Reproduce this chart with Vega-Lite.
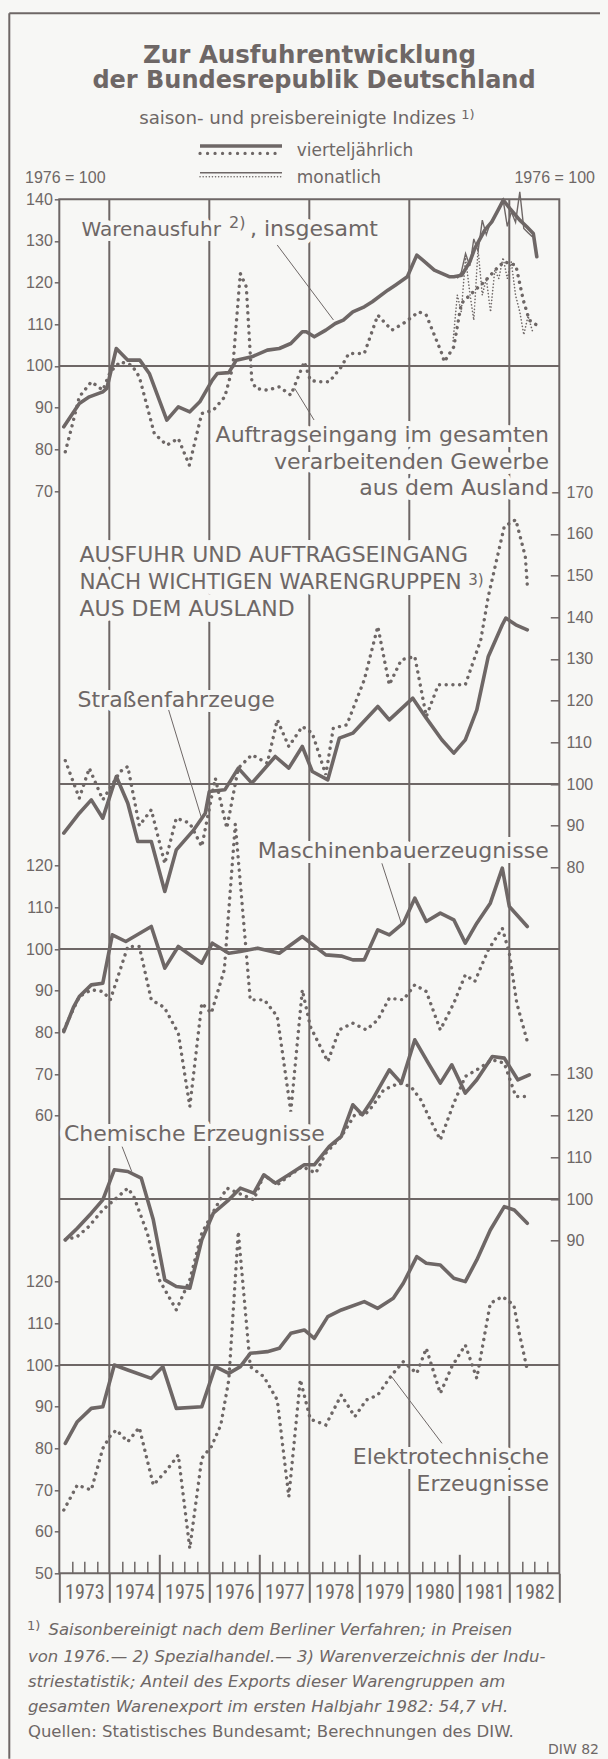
{
"$schema": "https://vega.github.io/schema/vega-lite/v6.json",
"width": 500, "height": 1374,
"autosize": {"type": "none"},
"padding": {"left": 59.3, "top": 199.3, "right": 48.7, "bottom": 185.7},
"background": "#f7f7f5",
"config": {"view": {"stroke": "#6e6766", "strokeWidth": 2}},
"data": {"values": [{}]},
"datasets": {
"ware_q": [{"t":1973.09,"v":85.4},{"t":1973.4,"v":91},{"t":1973.6,"v":92.6},{"t":1973.87,"v":93.8},{"t":1973.95,"v":94.6},{"t":1974.14,"v":104.2},{"t":1974.37,"v":101.4},{"t":1974.61,"v":101.4},{"t":1974.8,"v":98.2},{"t":1975.15,"v":87},{"t":1975.38,"v":90.2},{"t":1975.61,"v":89},{"t":1975.81,"v":91.4},{"t":1976.06,"v":96.6},{"t":1976.16,"v":98.2},{"t":1976.39,"v":98.4},{"t":1976.54,"v":101.4},{"t":1976.85,"v":102.2},{"t":1977.16,"v":103.8},{"t":1977.4,"v":104.2},{"t":1977.63,"v":105.4},{"t":1977.86,"v":108.2},{"t":1977.94,"v":108.2},{"t":1978.1,"v":107},{"t":1978.33,"v":108.6},{"t":1978.52,"v":110.2},{"t":1978.68,"v":111},{"t":1978.87,"v":113},{"t":1979.1,"v":114.2},{"t":1979.26,"v":115.4},{"t":1979.57,"v":118.2},{"t":1979.72,"v":119.4},{"t":1979.96,"v":121.4},{"t":1980.15,"v":126.6},{"t":1980.27,"v":125.4},{"t":1980.5,"v":123},{"t":1980.81,"v":121.4},{"t":1980.89,"v":121.4},{"t":1981.05,"v":121.8},{"t":1981.21,"v":125},{"t":1981.31,"v":128.2},{"t":1981.51,"v":132.6},{"t":1981.65,"v":134.6},{"t":1981.81,"v":138.2},{"t":1981.88,"v":139.8},{"t":1982.01,"v":137.8},{"t":1982.21,"v":135},{"t":1982.35,"v":133.4},{"t":1982.48,"v":131.8},{"t":1982.55,"v":126.2}],
"ware_m": [{"t":1980.96,"v":121},{"t":1981.04,"v":122.5},{"t":1981.125,"v":127},{"t":1981.21,"v":124},{"t":1981.29,"v":130.5},{"t":1981.375,"v":127.5},{"t":1981.46,"v":135},{"t":1981.54,"v":131.5},{"t":1981.625,"v":134.5},{"t":1981.71,"v":136},{"t":1981.79,"v":138},{"t":1981.875,"v":140},{"t":1981.96,"v":133.5},{"t":1982.04,"v":137},{"t":1982.125,"v":134.5},{"t":1982.21,"v":141.8},{"t":1982.29,"v":133},{"t":1982.375,"v":132},{"t":1982.46,"v":131}],
"auft_q": [{"t":1973.12,"v":79.4},{"t":1973.25,"v":85.4},{"t":1973.4,"v":92.6},{"t":1973.64,"v":96.2},{"t":1973.87,"v":94.2},{"t":1974.02,"v":98.6},{"t":1974.22,"v":101},{"t":1974.45,"v":100.2},{"t":1974.6,"v":97.4},{"t":1974.9,"v":83.8},{"t":1975.15,"v":81},{"t":1975.38,"v":82.6},{"t":1975.6,"v":76.2},{"t":1975.85,"v":88.6},{"t":1976.08,"v":89.4},{"t":1976.31,"v":92.6},{"t":1976.47,"v":99.8},{"t":1976.62,"v":122.2},{"t":1976.74,"v":119},{"t":1976.85,"v":96.6},{"t":1976.93,"v":94.6},{"t":1977.16,"v":94.2},{"t":1977.4,"v":95},{"t":1977.63,"v":93},{"t":1977.9,"v":101},{"t":1978.02,"v":96.6},{"t":1978.17,"v":96.2},{"t":1978.4,"v":96.2},{"t":1978.64,"v":99.8},{"t":1978.79,"v":103},{"t":1979.1,"v":103},{"t":1979.37,"v":112.2},{"t":1979.65,"v":108.6},{"t":1979.88,"v":110.2},{"t":1980.19,"v":113},{"t":1980.34,"v":112.2},{"t":1980.65,"v":103},{"t":1980.7,"v":101},{"t":1980.89,"v":104.6},{"t":1981.04,"v":115},{"t":1981.35,"v":118.6},{"t":1981.5,"v":120.2},{"t":1981.78,"v":123.8},{"t":1981.9,"v":125},{"t":1982.13,"v":124.2},{"t":1982.28,"v":115.8},{"t":1982.4,"v":111},{"t":1982.55,"v":109.8}],
"auft_m": [{"t":1980.875,"v":106},{"t":1980.96,"v":117},{"t":1981.04,"v":113},{"t":1981.125,"v":126},{"t":1981.21,"v":117.5},{"t":1981.29,"v":111},{"t":1981.375,"v":128},{"t":1981.46,"v":117},{"t":1981.54,"v":121},{"t":1981.625,"v":113},{"t":1981.71,"v":123},{"t":1981.79,"v":121},{"t":1981.875,"v":126},{"t":1981.96,"v":121},{"t":1982.04,"v":125},{"t":1982.125,"v":117},{"t":1982.21,"v":113},{"t":1982.29,"v":107.5},{"t":1982.375,"v":112},{"t":1982.46,"v":108.5}],
"str_a": [{"t":1973.09,"v":88.2},{"t":1973.4,"v":93},{"t":1973.64,"v":96.2},{"t":1973.87,"v":91.8},{"t":1974.14,"v":101.8},{"t":1974.37,"v":95.4},{"t":1974.57,"v":86.2},{"t":1974.84,"v":86.2},{"t":1975.11,"v":74.2},{"t":1975.34,"v":84.2},{"t":1975.69,"v":89},{"t":1975.92,"v":93},{"t":1976.0,"v":98.2},{"t":1976.31,"v":98.6},{"t":1976.58,"v":103.8},{"t":1976.85,"v":100.2},{"t":1977.32,"v":106.6},{"t":1977.59,"v":103.8},{"t":1977.86,"v":109},{"t":1978.06,"v":103},{"t":1978.37,"v":101},{"t":1978.6,"v":111},{"t":1978.87,"v":112.2},{"t":1979.37,"v":118.6},{"t":1979.6,"v":115.4},{"t":1980.07,"v":120.6},{"t":1980.34,"v":115.8},{"t":1980.65,"v":110.6},{"t":1980.89,"v":107.4},{"t":1981.12,"v":110.6},{"t":1981.35,"v":117.8},{"t":1981.58,"v":130.6},{"t":1981.86,"v":138.2},{"t":1981.93,"v":139.8},{"t":1982.13,"v":138.2},{"t":1982.36,"v":137}],
"str_o": [{"t":1973.12,"v":105.6},{"t":1973.4,"v":96.6},{"t":1973.6,"v":103.8},{"t":1973.87,"v":96.2},{"t":1974.22,"v":103},{"t":1974.37,"v":104.2},{"t":1974.6,"v":90},{"t":1974.84,"v":93.8},{"t":1975.11,"v":80.9},{"t":1975.34,"v":91.8},{"t":1975.61,"v":90.6},{"t":1975.85,"v":85},{"t":1976.12,"v":101.4},{"t":1976.35,"v":89.4},{"t":1976.58,"v":103.8},{"t":1976.85,"v":107},{"t":1977.16,"v":105},{"t":1977.36,"v":115.4},{"t":1977.59,"v":109},{"t":1977.86,"v":113.8},{"t":1978.06,"v":112.2},{"t":1978.33,"v":102.2},{"t":1978.48,"v":113.4},{"t":1978.75,"v":114.2},{"t":1979.1,"v":125},{"t":1979.37,"v":137.8},{"t":1979.6,"v":123.8},{"t":1979.84,"v":129.8},{"t":1980.11,"v":130.6},{"t":1980.34,"v":116.2},{"t":1980.58,"v":123.8},{"t":1981.12,"v":123.8},{"t":1981.43,"v":134.6},{"t":1981.58,"v":145},{"t":1981.9,"v":161.8},{"t":1982.13,"v":163.4},{"t":1982.32,"v":154.6},{"t":1982.36,"v":147.8}],
"mas_a": [{"t":1973.09,"v":80.2},{"t":1973.29,"v":86.2},{"t":1973.4,"v":88.6},{"t":1973.64,"v":91.4},{"t":1973.87,"v":91.8},{"t":1974.06,"v":103.4},{"t":1974.33,"v":101.8},{"t":1974.84,"v":105.4},{"t":1975.11,"v":95.4},{"t":1975.38,"v":100.6},{"t":1975.85,"v":96.6},{"t":1976.06,"v":101.4},{"t":1976.39,"v":99},{"t":1976.62,"v":99.4},{"t":1976.97,"v":100.2},{"t":1977.4,"v":99},{"t":1977.86,"v":103},{"t":1978.33,"v":98.6},{"t":1978.64,"v":98.3},{"t":1978.87,"v":97.4},{"t":1979.1,"v":97.4},{"t":1979.37,"v":104.6},{"t":1979.6,"v":103.4},{"t":1979.88,"v":106.2},{"t":1980.11,"v":112.2},{"t":1980.34,"v":106.6},{"t":1980.62,"v":108.6},{"t":1980.89,"v":107},{"t":1981.12,"v":101.4},{"t":1981.35,"v":106.2},{"t":1981.62,"v":111},{"t":1981.86,"v":119.4},{"t":1982.0,"v":110.2},{"t":1982.36,"v":105.4}],
"mas_o": [{"t":1973.09,"v":80.6},{"t":1973.4,"v":88.6},{"t":1973.64,"v":90.2},{"t":1973.87,"v":89.8},{"t":1974.02,"v":87.8},{"t":1974.37,"v":100.6},{"t":1974.6,"v":100.6},{"t":1974.84,"v":87.8},{"t":1975.1,"v":86},{"t":1975.38,"v":79.8},{"t":1975.61,"v":62.2},{"t":1975.85,"v":87},{"t":1976.04,"v":84.6},{"t":1976.3,"v":95},{"t":1976.52,"v":130},{"t":1976.82,"v":87.8},{"t":1977.1,"v":87.8},{"t":1977.36,"v":83.8},{"t":1977.63,"v":61},{"t":1977.86,"v":90.2},{"t":1978.02,"v":81.4},{"t":1978.37,"v":73},{"t":1978.6,"v":80.6},{"t":1978.87,"v":82.2},{"t":1979.14,"v":80.6},{"t":1979.37,"v":83},{"t":1979.6,"v":88.2},{"t":1979.88,"v":87.8},{"t":1980.11,"v":91.4},{"t":1980.34,"v":89.8},{"t":1980.62,"v":80.6},{"t":1980.89,"v":87},{"t":1981.12,"v":93.8},{"t":1981.31,"v":92.2},{"t":1981.58,"v":99.8},{"t":1981.86,"v":105},{"t":1982.0,"v":99},{"t":1982.15,"v":87},{"t":1982.36,"v":77.8}],
"che_a": [{"t":1973.12,"v":90.2},{"t":1973.36,"v":93},{"t":1973.64,"v":96.6},{"t":1973.87,"v":99.8},{"t":1974.1,"v":107},{"t":1974.37,"v":106.6},{"t":1974.64,"v":105},{"t":1974.88,"v":95},{"t":1975.11,"v":80.6},{"t":1975.34,"v":79},{"t":1975.61,"v":78.6},{"t":1975.85,"v":90.2},{"t":1976.08,"v":96.6},{"t":1976.39,"v":99.8},{"t":1976.62,"v":102.6},{"t":1976.89,"v":101.4},{"t":1977.09,"v":105.8},{"t":1977.32,"v":103.8},{"t":1977.59,"v":105.8},{"t":1977.9,"v":108.2},{"t":1978.1,"v":108.2},{"t":1978.4,"v":112.6},{"t":1978.64,"v":115},{"t":1978.87,"v":122.6},{"t":1979.06,"v":120.2},{"t":1979.26,"v":123.8},{"t":1979.6,"v":131},{"t":1979.84,"v":127.8},{"t":1980.11,"v":138.2},{"t":1980.38,"v":132.6},{"t":1980.62,"v":127.8},{"t":1980.85,"v":132.2},{"t":1981.12,"v":125.4},{"t":1981.35,"v":128.6},{"t":1981.66,"v":134.2},{"t":1981.9,"v":133.8},{"t":1982.17,"v":128.6},{"t":1982.4,"v":129.8}],
"che_o": [{"t":1973.12,"v":90.2},{"t":1973.36,"v":91},{"t":1973.59,"v":93.4},{"t":1973.87,"v":97.4},{"t":1974.12,"v":100},{"t":1974.37,"v":102.6},{"t":1974.49,"v":100.6},{"t":1974.76,"v":91.8},{"t":1975.0,"v":80.6},{"t":1975.34,"v":73.4},{"t":1975.61,"v":80.6},{"t":1975.85,"v":91.8},{"t":1976.12,"v":97.8},{"t":1976.35,"v":102.6},{"t":1976.66,"v":101},{"t":1976.89,"v":99.8},{"t":1977.09,"v":105.8},{"t":1977.36,"v":103.4},{"t":1977.59,"v":105.5},{"t":1977.86,"v":107.8},{"t":1978.13,"v":106.2},{"t":1978.33,"v":111},{"t":1978.64,"v":115},{"t":1978.91,"v":120.2},{"t":1979.14,"v":120.6},{"t":1979.26,"v":122.2},{"t":1979.49,"v":126.2},{"t":1979.8,"v":127.8},{"t":1980.03,"v":127},{"t":1980.23,"v":123.8},{"t":1980.42,"v":119},{"t":1980.62,"v":114.2},{"t":1980.89,"v":123},{"t":1981.12,"v":129.4},{"t":1981.35,"v":131},{"t":1981.66,"v":133.4},{"t":1981.9,"v":132.6},{"t":1982.13,"v":124.6},{"t":1982.4,"v":124.6}],
"ele_a": [{"t":1973.12,"v":81.2},{"t":1973.36,"v":86.4},{"t":1973.64,"v":89.6},{"t":1973.87,"v":90},{"t":1974.1,"v":100},{"t":1974.37,"v":98.8},{"t":1974.84,"v":96.8},{"t":1975.07,"v":99.6},{"t":1975.34,"v":89.6},{"t":1975.85,"v":90},{"t":1976.12,"v":99.6},{"t":1976.39,"v":98},{"t":1976.62,"v":99.6},{"t":1976.82,"v":102.8},{"t":1977.16,"v":103.2},{"t":1977.4,"v":104},{"t":1977.63,"v":107.6},{"t":1977.9,"v":108.4},{"t":1978.1,"v":106.4},{"t":1978.37,"v":111.6},{"t":1978.64,"v":113.2},{"t":1979.1,"v":115.2},{"t":1979.37,"v":113.6},{"t":1979.68,"v":116},{"t":1979.88,"v":119.6},{"t":1980.15,"v":126},{"t":1980.34,"v":124.4},{"t":1980.62,"v":124},{"t":1980.89,"v":120.8},{"t":1981.12,"v":120},{"t":1981.35,"v":125.2},{"t":1981.62,"v":132.4},{"t":1981.9,"v":138},{"t":1982.1,"v":137.2},{"t":1982.36,"v":134}],
"ele_o": [{"t":1973.09,"v":65.2},{"t":1973.36,"v":71.2},{"t":1973.64,"v":70},{"t":1973.87,"v":80},{"t":1974.02,"v":83},{"t":1974.14,"v":84.4},{"t":1974.37,"v":81.6},{"t":1974.6,"v":85},{"t":1974.88,"v":71.2},{"t":1975.15,"v":74.8},{"t":1975.38,"v":78.4},{"t":1975.61,"v":56},{"t":1975.85,"v":77.6},{"t":1976.04,"v":80.4},{"t":1976.23,"v":85.6},{"t":1976.39,"v":96.4},{"t":1976.58,"v":132},{"t":1976.82,"v":99.6},{"t":1977.09,"v":97.2},{"t":1977.36,"v":91.6},{"t":1977.59,"v":68.4},{"t":1977.82,"v":96.5},{"t":1978.02,"v":87},{"t":1978.33,"v":85.6},{"t":1978.64,"v":92.8},{"t":1978.91,"v":87.6},{"t":1979.14,"v":91.6},{"t":1979.37,"v":92.8},{"t":1979.65,"v":97.6},{"t":1979.88,"v":100.8},{"t":1980.15,"v":98},{"t":1980.34,"v":104},{"t":1980.62,"v":93.2},{"t":1980.85,"v":99.6},{"t":1981.12,"v":104.8},{"t":1981.35,"v":96.8},{"t":1981.62,"v":114.8},{"t":1981.86,"v":116.4},{"t":1982.09,"v":114.4},{"t":1982.2,"v":107.6},{"t":1982.36,"v":98.8}]
},
"layer": [
{"mark": {"type": "rule", "color": "#6e6766", "strokeWidth": 2}, "encoding": {"x": {"datum": 1972.0, "axis": null}, "y": {"datum": 184.62, "scale": {"domain": [70, 140], "range": [291.7, 0], "nice": false, "zero": false}, "axis": null}, "y2": {"datum": -234.2}}},
{"mark": {"type": "rule", "color": "#6e6766", "strokeWidth": 2}, "encoding": {"x": {"datum": 1972.0, "axis": null}, "x2": {"datum": 1983.814}, "y": {"datum": 184.62, "scale": {"domain": [70, 140], "range": [291.7, 0], "nice": false, "zero": false}, "axis": null}}},

{"mark": {"type": "rule", "color": "#6e6766", "strokeWidth": 2}, "encoding": {"x": {"datum": 1974, "axis": null}}},
{"mark": {"type": "rule", "color": "#6e6766", "strokeWidth": 2}, "encoding": {"x": {"datum": 1976, "axis": null}}},
{"mark": {"type": "rule", "color": "#6e6766", "strokeWidth": 2}, "encoding": {"x": {"datum": 1978, "axis": null}}},
{"mark": {"type": "rule", "color": "#6e6766", "strokeWidth": 2}, "encoding": {"x": {"datum": 1980, "axis": null}}},
{"mark": {"type": "rule", "color": "#6e6766", "strokeWidth": 2}, "encoding": {"x": {"datum": 1982, "axis": null}}},

{"mark": {"type": "text", "text": "Warenausfuhr", "align": "left", "baseline": "alphabetic", "font": "DejaVu Sans", "fontSize": 20, "fill": "#f7f7f5", "stroke": "#f7f7f5", "strokeWidth": 10, "strokeJoin": "round"}, "encoding": {"x": {"datum": 1973.442, "axis": null}, "y": {"datum": 131.19, "scale": {"domain": [70, 140], "range": [291.7, 0], "nice": false, "zero": false}, "axis": null}}},
{"mark": {"type": "text", "text": ", insgesamt", "align": "right", "baseline": "alphabetic", "font": "DejaVu Sans", "fontSize": 22, "fill": "#f7f7f5", "stroke": "#f7f7f5", "strokeWidth": 10, "strokeJoin": "round"}, "encoding": {"x": {"datum": 1979.374, "axis": null}, "y": {"datum": 131.19, "scale": {"domain": [70, 140], "range": [291.7, 0], "nice": false, "zero": false}, "axis": null}}},
{"mark": {"type": "text", "text": "Auftragseingang im gesamten", "align": "right", "baseline": "alphabetic", "font": "DejaVu Sans", "fontSize": 22, "fill": "#f7f7f5", "stroke": "#f7f7f5", "strokeWidth": 10, "strokeJoin": "round"}, "encoding": {"x": {"datum": 1982.794, "axis": null}, "y": {"datum": 81.69, "scale": {"domain": [70, 140], "range": [291.7, 0], "nice": false, "zero": false}, "axis": null}}},
{"mark": {"type": "text", "text": "verarbeitenden Gewerbe", "align": "right", "baseline": "alphabetic", "font": "DejaVu Sans", "fontSize": 22, "fill": "#f7f7f5", "stroke": "#f7f7f5", "strokeWidth": 10, "strokeJoin": "round"}, "encoding": {"x": {"datum": 1982.794, "axis": null}, "y": {"datum": 75.36, "scale": {"domain": [70, 140], "range": [291.7, 0], "nice": false, "zero": false}, "axis": null}}},
{"mark": {"type": "text", "text": "aus dem Ausland", "align": "right", "baseline": "alphabetic", "font": "DejaVu Sans", "fontSize": 22, "fill": "#f7f7f5", "stroke": "#f7f7f5", "strokeWidth": 10, "strokeJoin": "round"}, "encoding": {"x": {"datum": 1982.794, "axis": null}, "y": {"datum": 68.97, "scale": {"domain": [70, 140], "range": [291.7, 0], "nice": false, "zero": false}, "axis": null}}},
{"mark": {"type": "text", "text": "AUSFUHR UND AUFTRAGSEINGANG", "align": "left", "baseline": "alphabetic", "font": "DejaVu Sans", "fontSize": 22, "fill": "#f7f7f5", "stroke": "#f7f7f5", "strokeWidth": 12, "strokeJoin": "round"}, "encoding": {"x": {"datum": 1973.404, "axis": null}, "y": {"datum": 153.33, "scale": {"domain": [80, 170], "range": [668.06, 292.94], "nice": false, "zero": false}, "axis": null}}},
{"mark": {"type": "text", "text": "NACH WICHTIGEN WARENGRUPPEN", "align": "left", "baseline": "alphabetic", "font": "DejaVu Sans", "fontSize": 21.5, "fill": "#f7f7f5", "stroke": "#f7f7f5", "strokeWidth": 12, "strokeJoin": "round"}, "encoding": {"x": {"datum": 1973.404, "axis": null}, "y": {"datum": 146.78, "scale": {"domain": [80, 170], "range": [668.06, 292.94], "nice": false, "zero": false}, "axis": null}}},
{"mark": {"type": "text", "text": "AUS DEM AUSLAND", "align": "left", "baseline": "alphabetic", "font": "DejaVu Sans", "fontSize": 22, "fill": "#f7f7f5", "stroke": "#f7f7f5", "strokeWidth": 12, "strokeJoin": "round"}, "encoding": {"x": {"datum": 1973.404, "axis": null}, "y": {"datum": 140.31, "scale": {"domain": [80, 170], "range": [668.06, 292.94], "nice": false, "zero": false}, "axis": null}}},
{"mark": {"type": "text", "text": "Straßenfahrzeuge", "align": "left", "baseline": "alphabetic", "font": "DejaVu Sans", "fontSize": 22, "fill": "#f7f7f5", "stroke": "#f7f7f5", "strokeWidth": 10, "strokeJoin": "round"}, "encoding": {"x": {"datum": 1973.364, "axis": null}, "y": {"datum": 118.55, "scale": {"domain": [80, 170], "range": [668.06, 292.94], "nice": false, "zero": false}, "axis": null}}},
{"mark": {"type": "text", "text": "Maschinenbauerzeugnisse", "align": "right", "baseline": "alphabetic", "font": "DejaVu Sans", "fontSize": 22, "fill": "#f7f7f5", "stroke": "#f7f7f5", "strokeWidth": 10, "strokeJoin": "round"}, "encoding": {"x": {"datum": 1982.788, "axis": null}, "y": {"datum": 121.76, "scale": {"domain": [60, 120], "range": [916.42, 666.34], "nice": false, "zero": false}, "axis": null}}},
{"mark": {"type": "text", "text": "Chemische Erzeugnisse", "align": "left", "baseline": "alphabetic", "font": "DejaVu Sans", "fontSize": 22, "fill": "#f7f7f5", "stroke": "#f7f7f5", "strokeWidth": 10, "strokeJoin": "round"}, "encoding": {"x": {"datum": 1973.094, "axis": null}, "y": {"datum": 113.99, "scale": {"domain": [90, 130], "range": [1041.38, 874.66], "nice": false, "zero": false}, "axis": null}}},
{"mark": {"type": "text", "text": "Elektrotechnische", "align": "right", "baseline": "alphabetic", "font": "DejaVu Sans", "fontSize": 22, "fill": "#f7f7f5", "stroke": "#f7f7f5", "strokeWidth": 10, "strokeJoin": "round"}, "encoding": {"x": {"datum": 1982.794, "axis": null}, "y": {"datum": 76.25, "scale": {"domain": [50, 120], "range": [1374.1, 1082.34], "nice": false, "zero": false}, "axis": null}}},
{"mark": {"type": "text", "text": "Erzeugnisse", "align": "right", "baseline": "alphabetic", "font": "DejaVu Sans", "fontSize": 22, "fill": "#f7f7f5", "stroke": "#f7f7f5", "strokeWidth": 10, "strokeJoin": "round"}, "encoding": {"x": {"datum": 1982.794, "axis": null}, "y": {"datum": 69.84, "scale": {"domain": [50, 120], "range": [1374.1, 1082.34], "nice": false, "zero": false}, "axis": null}}},

{"mark": {"type": "rule", "color": "#6e6766", "strokeWidth": 2}, "encoding": {"y": {"datum": 100, "scale": {"domain": [70, 140], "range": [291.7, 0], "nice": false, "zero": false}, "axis": null}}},
{"mark": {"type": "rule", "color": "#6e6766", "strokeWidth": 2}, "encoding": {"y": {"datum": 100, "scale": {"domain": [80, 170], "range": [668.06, 292.94], "nice": false, "zero": false}, "axis": null}}},
{"mark": {"type": "rule", "color": "#6e6766", "strokeWidth": 2}, "encoding": {"y": {"datum": 100, "scale": {"domain": [60, 120], "range": [916.42, 666.34], "nice": false, "zero": false}, "axis": null}}},
{"mark": {"type": "rule", "color": "#6e6766", "strokeWidth": 2}, "encoding": {"y": {"datum": 100, "scale": {"domain": [90, 130], "range": [1041.38, 874.66], "nice": false, "zero": false}, "axis": null}}},
{"mark": {"type": "rule", "color": "#6e6766", "strokeWidth": 2}, "encoding": {"y": {"datum": 100, "scale": {"domain": [50, 120], "range": [1374.1, 1082.34], "nice": false, "zero": false}, "axis": null}}},

{"data": {"name": "ware_q"}, "mark": {"type": "line", "color": "#6e6766", "strokeWidth": 3.6, "strokeJoin": "round", "strokeCap": "round"}, "encoding": {"x": {"field": "t", "type": "quantitative", "scale": {"domain": [1973, 1983], "nice": false, "zero": false}, "axis": {"orient": "bottom", "values": [1973, 1974, 1975, 1976, 1977, 1978, 1979, 1980, 1981, 1982, 1983], "format": "d", "labelExpr": "datum.value < 1983 ? datum.label : ''", "tickSize": 29, "tickWidth": 2, "tickColor": "#6e6766", "labelOffset": 25, "labelPadding": -10, "labelBaseline": "middle", "labelAlign": "center", "labelFont": "'Roboto Condensed', 'DejaVu Sans Condensed', 'Liberation Sans'", "labelFontSize": 20, "labelColor": "#6e6766", "labelFlush": false, "labelOverlap": false, "labelBound": false, "domain": false, "grid": false, "title": null}}, "y": {"field": "v", "type": "quantitative", "scale": {"domain": [70, 140], "range": [291.7, 0], "nice": false, "zero": false}, "axis": {"orient": "left", "values": [70, 80, 90, 100, 110, 120, 130, 140], "tickSize": 5, "tickWidth": 1.5, "tickColor": "#6e6766", "labelFont": "Liberation Sans", "labelFontSize": 16, "labelColor": "#6e6766", "labelPadding": 2, "domain": false, "grid": false, "title": null}}}},
{"data": {"name": "ware_m"}, "mark": {"type": "line", "color": "#6e6766", "strokeWidth": 1.4}, "encoding": {"x": {"field": "t", "type": "quantitative", "axis": null}, "y": {"field": "v", "type": "quantitative", "scale": {"domain": [70, 140], "range": [291.7, 0], "nice": false, "zero": false}, "axis": null}}},
{"data": {"name": "auft_q"}, "mark": {"type": "line", "color": "#6e6766", "strokeWidth": 3.4, "strokeDash": [0.1, 6.6], "strokeCap": "round"}, "encoding": {"x": {"field": "t", "type": "quantitative", "axis": null}, "y": {"field": "v", "type": "quantitative", "scale": {"domain": [70, 140], "range": [291.7, 0], "nice": false, "zero": false}, "axis": null}}},
{"data": {"name": "auft_m"}, "mark": {"type": "line", "color": "#6e6766", "strokeWidth": 1.6, "strokeDash": [0.1, 3.2], "strokeCap": "round"}, "encoding": {"x": {"field": "t", "type": "quantitative", "axis": null}, "y": {"field": "v", "type": "quantitative", "scale": {"domain": [70, 140], "range": [291.7, 0], "nice": false, "zero": false}, "axis": null}}},
{"data": {"name": "str_a"}, "mark": {"type": "line", "color": "#6e6766", "strokeWidth": 3.6, "strokeJoin": "round", "strokeCap": "round"}, "encoding": {"x": {"field": "t", "type": "quantitative", "axis": {"orient": "bottom", "values": [1973.25, 1973.5, 1973.75, 1974.25, 1974.5, 1974.75, 1975.25, 1975.5, 1975.75, 1976.25, 1976.5, 1976.75, 1977.25, 1977.5, 1977.75, 1978.25, 1978.5, 1978.75, 1979.25, 1979.5, 1979.75, 1980.25, 1980.5, 1980.75, 1981.25, 1981.5, 1981.75, 1982.25, 1982.5, 1982.75], "tickSize": -12, "tickWidth": 1.5, "tickColor": "#6e6766", "labels": false, "domain": false, "grid": false, "title": null}}, "y": {"field": "v", "type": "quantitative", "scale": {"domain": [80, 170], "range": [668.06, 292.94], "nice": false, "zero": false}, "axis": {"orient": "right", "values": [80, 90, 100, 110, 120, 130, 140, 150, 160, 170], "tickSize": -9, "tickWidth": 1.5, "tickColor": "#6e6766", "labelFont": "Liberation Sans", "labelFontSize": 16, "labelColor": "#6e6766", "labelPadding": 15.7, "domain": false, "grid": false, "title": null}}}},
{"data": {"name": "str_o"}, "mark": {"type": "line", "color": "#6e6766", "strokeWidth": 3.4, "strokeDash": [0.1, 6.6], "strokeCap": "round"}, "encoding": {"x": {"field": "t", "type": "quantitative", "axis": null}, "y": {"field": "v", "type": "quantitative", "scale": {"domain": [80, 170], "range": [668.06, 292.94], "nice": false, "zero": false}, "axis": null}}},
{"data": {"name": "mas_a"}, "mark": {"type": "line", "color": "#6e6766", "strokeWidth": 3.6, "strokeJoin": "round", "strokeCap": "round"}, "encoding": {"x": {"field": "t", "type": "quantitative", "axis": {"orient": "bottom", "values": [1975, 1977, 1979, 1981], "tickSize": -19, "tickWidth": 2, "tickColor": "#6e6766", "labels": false, "domain": false, "grid": false, "title": null}}, "y": {"field": "v", "type": "quantitative", "scale": {"domain": [60, 120], "range": [916.42, 666.34], "nice": false, "zero": false}, "axis": {"orient": "left", "values": [60, 70, 80, 90, 100, 110, 120], "tickSize": 5, "tickWidth": 1.5, "tickColor": "#6e6766", "labelFont": "Liberation Sans", "labelFontSize": 16, "labelColor": "#6e6766", "labelPadding": 2, "domain": false, "grid": false, "title": null}}}},
{"data": {"name": "mas_o"}, "mark": {"type": "line", "color": "#6e6766", "strokeWidth": 3.4, "strokeDash": [0.1, 6.6], "strokeCap": "round"}, "encoding": {"x": {"field": "t", "type": "quantitative", "axis": null}, "y": {"field": "v", "type": "quantitative", "scale": {"domain": [60, 120], "range": [916.42, 666.34], "nice": false, "zero": false}, "axis": null}}},
{"data": {"name": "che_a"}, "mark": {"type": "line", "color": "#6e6766", "strokeWidth": 3.6, "strokeJoin": "round", "strokeCap": "round"}, "encoding": {"x": {"field": "t", "type": "quantitative", "axis": null}, "y": {"field": "v", "type": "quantitative", "scale": {"domain": [90, 130], "range": [1041.38, 874.66], "nice": false, "zero": false}, "axis": {"orient": "right", "values": [90, 100, 110, 120, 130], "tickSize": -9, "tickWidth": 1.5, "tickColor": "#6e6766", "labelFont": "Liberation Sans", "labelFontSize": 16, "labelColor": "#6e6766", "labelPadding": 15.7, "domain": false, "grid": false, "title": null}}}},
{"data": {"name": "che_o"}, "mark": {"type": "line", "color": "#6e6766", "strokeWidth": 3.4, "strokeDash": [0.1, 6.6], "strokeCap": "round"}, "encoding": {"x": {"field": "t", "type": "quantitative", "axis": null}, "y": {"field": "v", "type": "quantitative", "scale": {"domain": [90, 130], "range": [1041.38, 874.66], "nice": false, "zero": false}, "axis": null}}},
{"data": {"name": "ele_a"}, "mark": {"type": "line", "color": "#6e6766", "strokeWidth": 3.6, "strokeJoin": "round", "strokeCap": "round"}, "encoding": {"x": {"field": "t", "type": "quantitative", "axis": null}, "y": {"field": "v", "type": "quantitative", "scale": {"domain": [50, 120], "range": [1374.1, 1082.34], "nice": false, "zero": false}, "axis": {"orient": "left", "values": [50, 60, 70, 80, 90, 100, 110, 120], "tickSize": 5, "tickWidth": 1.5, "tickColor": "#6e6766", "labelFont": "Liberation Sans", "labelFontSize": 16, "labelColor": "#6e6766", "labelPadding": 2, "domain": false, "grid": false, "title": null}}}},
{"data": {"name": "ele_o"}, "mark": {"type": "line", "color": "#6e6766", "strokeWidth": 3.4, "strokeDash": [0.1, 6.6], "strokeCap": "round"}, "encoding": {"x": {"field": "t", "type": "quantitative", "axis": null}, "y": {"field": "v", "type": "quantitative", "scale": {"domain": [50, 120], "range": [1374.1, 1082.34], "nice": false, "zero": false}, "axis": null}}},

{"mark": {"type": "rule", "color": "#6e6766", "strokeWidth": 1}, "encoding": {"x": {"datum": 1977.358, "axis": null}, "x2": {"datum": 1978.483}, "y": {"datum": 129.04, "scale": {"domain": [70, 140], "range": [291.7, 0], "nice": false, "zero": false}, "axis": null}, "y2": {"datum": 111.04}}},
{"mark": {"type": "rule", "color": "#6e6766", "strokeWidth": 1}, "encoding": {"x": {"datum": 1977.707, "axis": null}, "x2": {"datum": 1978.095}, "y": {"datum": 94.64, "scale": {"domain": [70, 140], "range": [291.7, 0], "nice": false, "zero": false}, "axis": null}, "y2": {"datum": 87.04}}},
{"mark": {"type": "rule", "color": "#6e6766", "strokeWidth": 1}, "encoding": {"x": {"datum": 1975.187, "axis": null}, "x2": {"datum": 1975.846}, "y": {"datum": 117.76, "scale": {"domain": [80, 170], "range": [668.06, 292.94], "nice": false, "zero": false}, "axis": null}, "y2": {"datum": 91.76}}},
{"mark": {"type": "rule", "color": "#6e6766", "strokeWidth": 1}, "encoding": {"x": {"datum": 1979.452, "axis": null}, "x2": {"datum": 1979.84}, "y": {"datum": 120.56, "scale": {"domain": [60, 120], "range": [916.42, 666.34], "nice": false, "zero": false}, "axis": null}, "y2": {"datum": 106.16}}},
{"mark": {"type": "rule", "color": "#6e6766", "strokeWidth": 1}, "encoding": {"x": {"datum": 1974.256, "axis": null}, "x2": {"datum": 1974.45}, "y": {"datum": 112.56, "scale": {"domain": [90, 130], "range": [1041.38, 874.66], "nice": false, "zero": false}, "axis": null}, "y2": {"datum": 106.56}}},
{"mark": {"type": "rule", "color": "#6e6766", "strokeWidth": 1}, "encoding": {"x": {"datum": 1979.646, "axis": null}, "x2": {"datum": 1980.654}, "y": {"datum": 97.2, "scale": {"domain": [50, 120], "range": [1374.1, 1082.34], "nice": false, "zero": false}, "axis": null}, "y2": {"datum": 81.2}}},

{"mark": {"type": "text", "text": "Warenausfuhr", "align": "left", "baseline": "alphabetic", "font": "DejaVu Sans", "fontSize": 20, "color": "#6e6766"}, "encoding": {"x": {"datum": 1973.442, "axis": null}, "y": {"datum": 131.19, "scale": {"domain": [70, 140], "range": [291.7, 0], "nice": false, "zero": false}, "axis": null}}},
{"mark": {"type": "text", "text": "2)", "align": "left", "baseline": "alphabetic", "font": "DejaVu Sans", "fontSize": 16, "color": "#6e6766"}, "encoding": {"x": {"datum": 1976.394, "axis": null}, "y": {"datum": 133.0, "scale": {"domain": [70, 140], "range": [291.7, 0], "nice": false, "zero": false}, "axis": null}}},
{"mark": {"type": "text", "text": ", insgesamt", "align": "right", "baseline": "alphabetic", "font": "DejaVu Sans", "fontSize": 22, "color": "#6e6766"}, "encoding": {"x": {"datum": 1979.374, "axis": null}, "y": {"datum": 131.19, "scale": {"domain": [70, 140], "range": [291.7, 0], "nice": false, "zero": false}, "axis": null}}},
{"mark": {"type": "text", "text": "Auftragseingang im gesamten", "align": "right", "baseline": "alphabetic", "font": "DejaVu Sans", "fontSize": 22, "color": "#6e6766"}, "encoding": {"x": {"datum": 1982.794, "axis": null}, "y": {"datum": 81.69, "scale": {"domain": [70, 140], "range": [291.7, 0], "nice": false, "zero": false}, "axis": null}}},
{"mark": {"type": "text", "text": "verarbeitenden Gewerbe", "align": "right", "baseline": "alphabetic", "font": "DejaVu Sans", "fontSize": 22, "color": "#6e6766"}, "encoding": {"x": {"datum": 1982.794, "axis": null}, "y": {"datum": 75.36, "scale": {"domain": [70, 140], "range": [291.7, 0], "nice": false, "zero": false}, "axis": null}}},
{"mark": {"type": "text", "text": "aus dem Ausland", "align": "right", "baseline": "alphabetic", "font": "DejaVu Sans", "fontSize": 22, "color": "#6e6766"}, "encoding": {"x": {"datum": 1982.794, "axis": null}, "y": {"datum": 68.97, "scale": {"domain": [70, 140], "range": [291.7, 0], "nice": false, "zero": false}, "axis": null}}},
{"mark": {"type": "text", "text": "AUSFUHR UND AUFTRAGSEINGANG", "align": "left", "baseline": "alphabetic", "font": "DejaVu Sans", "fontSize": 22, "color": "#6e6766"}, "encoding": {"x": {"datum": 1973.404, "axis": null}, "y": {"datum": 153.33, "scale": {"domain": [80, 170], "range": [668.06, 292.94], "nice": false, "zero": false}, "axis": null}}},
{"mark": {"type": "text", "text": "NACH WICHTIGEN WARENGRUPPEN", "align": "left", "baseline": "alphabetic", "font": "DejaVu Sans", "fontSize": 21.5, "color": "#6e6766"}, "encoding": {"x": {"datum": 1973.404, "axis": null}, "y": {"datum": 146.78, "scale": {"domain": [80, 170], "range": [668.06, 292.94], "nice": false, "zero": false}, "axis": null}}},
{"mark": {"type": "text", "text": "3)", "align": "left", "baseline": "alphabetic", "font": "DejaVu Sans", "fontSize": 15, "color": "#6e6766"}, "encoding": {"x": {"datum": 1981.18, "axis": null}, "y": {"datum": 147.63, "scale": {"domain": [80, 170], "range": [668.06, 292.94], "nice": false, "zero": false}, "axis": null}}},
{"mark": {"type": "text", "text": "AUS DEM AUSLAND", "align": "left", "baseline": "alphabetic", "font": "DejaVu Sans", "fontSize": 22, "color": "#6e6766"}, "encoding": {"x": {"datum": 1973.404, "axis": null}, "y": {"datum": 140.31, "scale": {"domain": [80, 170], "range": [668.06, 292.94], "nice": false, "zero": false}, "axis": null}}},
{"mark": {"type": "text", "text": "Straßenfahrzeuge", "align": "left", "baseline": "alphabetic", "font": "DejaVu Sans", "fontSize": 22, "color": "#6e6766"}, "encoding": {"x": {"datum": 1973.364, "axis": null}, "y": {"datum": 118.55, "scale": {"domain": [80, 170], "range": [668.06, 292.94], "nice": false, "zero": false}, "axis": null}}},
{"mark": {"type": "text", "text": "Maschinenbauerzeugnisse", "align": "right", "baseline": "alphabetic", "font": "DejaVu Sans", "fontSize": 22, "color": "#6e6766"}, "encoding": {"x": {"datum": 1982.788, "axis": null}, "y": {"datum": 121.76, "scale": {"domain": [60, 120], "range": [916.42, 666.34], "nice": false, "zero": false}, "axis": null}}},
{"mark": {"type": "text", "text": "Chemische Erzeugnisse", "align": "left", "baseline": "alphabetic", "font": "DejaVu Sans", "fontSize": 22, "color": "#6e6766"}, "encoding": {"x": {"datum": 1973.094, "axis": null}, "y": {"datum": 113.99, "scale": {"domain": [90, 130], "range": [1041.38, 874.66], "nice": false, "zero": false}, "axis": null}}},
{"mark": {"type": "text", "text": "Elektrotechnische", "align": "right", "baseline": "alphabetic", "font": "DejaVu Sans", "fontSize": 22, "color": "#6e6766"}, "encoding": {"x": {"datum": 1982.794, "axis": null}, "y": {"datum": 76.25, "scale": {"domain": [50, 120], "range": [1374.1, 1082.34], "nice": false, "zero": false}, "axis": null}}},
{"mark": {"type": "text", "text": "Erzeugnisse", "align": "right", "baseline": "alphabetic", "font": "DejaVu Sans", "fontSize": 22, "color": "#6e6766"}, "encoding": {"x": {"datum": 1982.794, "axis": null}, "y": {"datum": 69.84, "scale": {"domain": [50, 120], "range": [1374.1, 1082.34], "nice": false, "zero": false}, "axis": null}}},

{"mark": {"type": "text", "text": "Zur Ausfuhrentwicklung", "align": "center", "baseline": "alphabetic", "font": "DejaVu Sans", "fontWeight": "bold", "fontSize": 24.5, "color": "#6e6766"}, "encoding": {"x": {"datum": 1978.004, "axis": null}, "y": {"datum": 172.7, "scale": {"domain": [70, 140], "range": [291.7, 0], "nice": false, "zero": false}, "axis": null}}},
{"mark": {"type": "text", "text": "der Bundesrepublik Deutschland", "align": "center", "baseline": "alphabetic", "font": "DejaVu Sans", "fontWeight": "bold", "fontSize": 24, "color": "#6e6766"}, "encoding": {"x": {"datum": 1978.094, "axis": null}, "y": {"datum": 166.75, "scale": {"domain": [70, 140], "range": [291.7, 0], "nice": false, "zero": false}, "axis": null}}},
{"mark": {"type": "text", "text": "saison- und preisbereinigte Indizes", "align": "center", "baseline": "alphabetic", "font": "DejaVu Sans", "fontSize": 18.2, "color": "#6e6766"}, "encoding": {"x": {"datum": 1977.766, "axis": null}, "y": {"datum": 158.06, "scale": {"domain": [70, 140], "range": [291.7, 0], "nice": false, "zero": false}, "axis": null}}},
{"mark": {"type": "text", "text": "1)", "align": "left", "baseline": "alphabetic", "font": "DejaVu Sans", "fontSize": 13, "color": "#6e6766"}, "encoding": {"x": {"datum": 1981.04, "axis": null}, "y": {"datum": 159.3, "scale": {"domain": [70, 140], "range": [291.7, 0], "nice": false, "zero": false}, "axis": null}}},
{"mark": {"type": "rule", "color": "#6e6766", "strokeWidth": 3.6}, "encoding": {"x": {"datum": 1975.814, "axis": null}, "x2": {"datum": 1977.454}, "y": {"datum": 152.78, "scale": {"domain": [70, 140], "range": [291.7, 0], "nice": false, "zero": false}, "axis": null}}},
{"mark": {"type": "rule", "color": "#6e6766", "strokeWidth": 3.2, "strokeDash": [0.1, 7.4], "strokeCap": "round"}, "encoding": {"x": {"datum": 1975.814, "axis": null}, "x2": {"datum": 1977.454}, "y": {"datum": 151.0, "scale": {"domain": [70, 140], "range": [291.7, 0], "nice": false, "zero": false}, "axis": null}}},
{"mark": {"type": "rule", "color": "#6e6766", "strokeWidth": 1.4}, "encoding": {"x": {"datum": 1975.814, "axis": null}, "x2": {"datum": 1977.454}, "y": {"datum": 146.38, "scale": {"domain": [70, 140], "range": [291.7, 0], "nice": false, "zero": false}, "axis": null}}},
{"mark": {"type": "rule", "color": "#6e6766", "strokeWidth": 1.5, "strokeDash": [0.1, 3], "strokeCap": "round"}, "encoding": {"x": {"datum": 1975.814, "axis": null}, "x2": {"datum": 1977.454}, "y": {"datum": 145.42, "scale": {"domain": [70, 140], "range": [291.7, 0], "nice": false, "zero": false}, "axis": null}}},
{"mark": {"type": "text", "text": "vierteljährlich", "align": "left", "baseline": "alphabetic", "font": "DejaVu Sans", "fontSize": 17, "color": "#6e6766"}, "encoding": {"x": {"datum": 1977.748, "axis": null}, "y": {"datum": 150.38, "scale": {"domain": [70, 140], "range": [291.7, 0], "nice": false, "zero": false}, "axis": null}}},
{"mark": {"type": "text", "text": "monatlich", "align": "left", "baseline": "alphabetic", "font": "DejaVu Sans", "fontSize": 17, "color": "#6e6766"}, "encoding": {"x": {"datum": 1977.748, "axis": null}, "y": {"datum": 143.98, "scale": {"domain": [70, 140], "range": [291.7, 0], "nice": false, "zero": false}, "axis": null}}},
{"mark": {"type": "text", "text": "1976 = 100", "align": "left", "baseline": "alphabetic", "font": "Liberation Sans", "fontSize": 16, "color": "#6e6766"}, "encoding": {"x": {"datum": 1972.314, "axis": null}, "y": {"datum": 143.98, "scale": {"domain": [70, 140], "range": [291.7, 0], "nice": false, "zero": false}, "axis": null}}},
{"mark": {"type": "text", "text": "1976 = 100", "align": "right", "baseline": "alphabetic", "font": "Liberation Sans", "fontSize": 16, "color": "#6e6766"}, "encoding": {"x": {"datum": 1983.714, "axis": null}, "y": {"datum": 143.98, "scale": {"domain": [70, 140], "range": [291.7, 0], "nice": false, "zero": false}, "axis": null}}},

{"mark": {"type": "text", "text": "1)", "align": "left", "baseline": "alphabetic", "font": "DejaVu Sans", "fontSize": 13, "color": "#6e6766"}, "encoding": {"x": {"datum": 1972.356, "axis": null}, "y": {"datum": 36.4, "scale": {"domain": [50, 120], "range": [1374.1, 1082.34], "nice": false, "zero": false}, "axis": null}}},
{"mark": {"type": "text", "text": "Saisonbereinigt nach dem Berliner Verfahren; in Preisen", "align": "left", "baseline": "alphabetic", "font": "DejaVu Sans", "fontStyle": "italic", "fontSize": 16.5, "color": "#6e6766"}, "encoding": {"x": {"datum": 1972.784, "axis": null}, "y": {"datum": 35.22, "scale": {"domain": [50, 120], "range": [1374.1, 1082.34], "nice": false, "zero": false}, "axis": null}}},
{"mark": {"type": "text", "text": "von 1976.— 2) Spezialhandel.— 3) Warenverzeichnis der Indu-", "align": "left", "baseline": "alphabetic", "font": "DejaVu Sans", "fontStyle": "italic", "fontSize": 16.5, "color": "#6e6766"}, "encoding": {"x": {"datum": 1972.372, "axis": null}, "y": {"datum": 28.82, "scale": {"domain": [50, 120], "range": [1374.1, 1082.34], "nice": false, "zero": false}, "axis": null}}},
{"mark": {"type": "text", "text": "striestatistik; Anteil des Exports dieser Warengruppen am", "align": "left", "baseline": "alphabetic", "font": "DejaVu Sans", "fontStyle": "italic", "fontSize": 16.5, "color": "#6e6766"}, "encoding": {"x": {"datum": 1972.372, "axis": null}, "y": {"datum": 22.67, "scale": {"domain": [50, 120], "range": [1374.1, 1082.34], "nice": false, "zero": false}, "axis": null}}},
{"mark": {"type": "text", "text": "gesamten Warenexport im ersten Halbjahr 1982: 54,7 vH.", "align": "left", "baseline": "alphabetic", "font": "DejaVu Sans", "fontStyle": "italic", "fontSize": 16.5, "color": "#6e6766"}, "encoding": {"x": {"datum": 1972.372, "axis": null}, "y": {"datum": 16.67, "scale": {"domain": [50, 120], "range": [1374.1, 1082.34], "nice": false, "zero": false}, "axis": null}}},
{"mark": {"type": "text", "text": "Quellen: Statistisches Bundesamt; Berechnungen des DIW.", "align": "left", "baseline": "alphabetic", "font": "DejaVu Sans", "fontSize": 16.5, "color": "#6e6766"}, "encoding": {"x": {"datum": 1972.372, "axis": null}, "y": {"datum": 10.67, "scale": {"domain": [50, 120], "range": [1374.1, 1082.34], "nice": false, "zero": false}, "axis": null}}},
{"mark": {"type": "text", "text": "DIW 82", "align": "right", "baseline": "alphabetic", "font": "DejaVu Sans", "fontSize": 14, "color": "#6e6766"}, "encoding": {"x": {"datum": 1983.794, "axis": null}, "y": {"datum": 6.67, "scale": {"domain": [50, 120], "range": [1374.1, 1082.34], "nice": false, "zero": false}, "axis": null}}}
],
"resolve": {"scale": {"y": "independent"}, "axis": {"x": "independent", "y": "independent"}}
}
